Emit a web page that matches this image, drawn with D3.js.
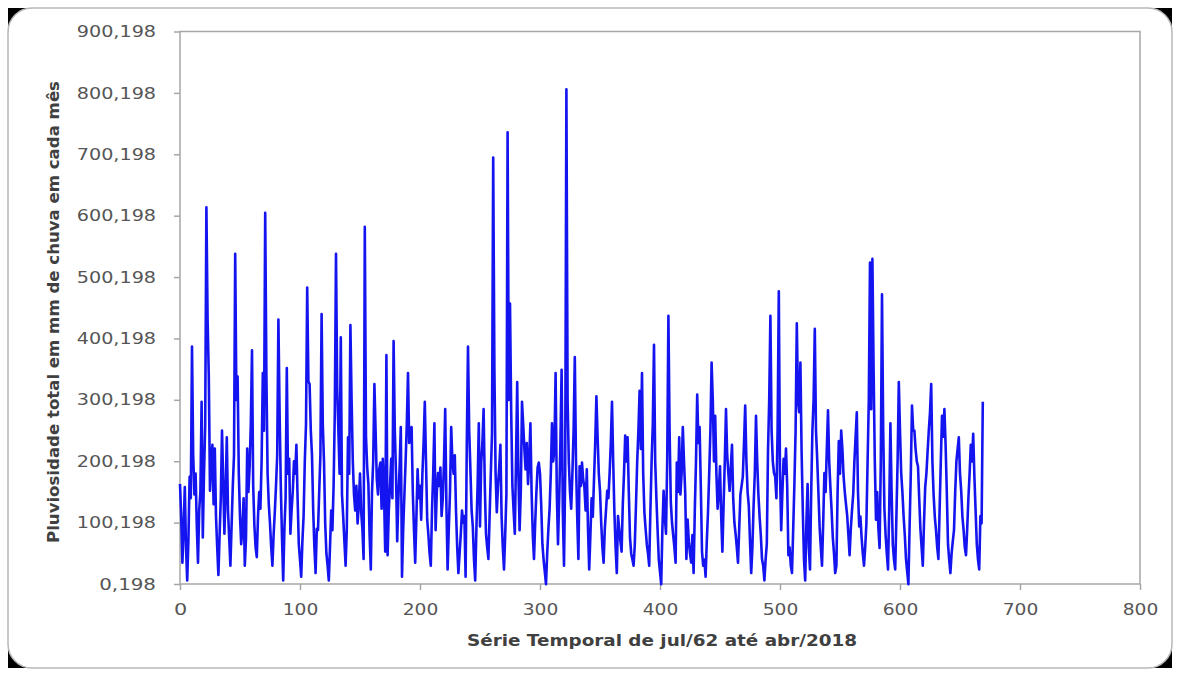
<!DOCTYPE html>
<html>
<head>
<meta charset="utf-8">
<script src="https://cdn.jsdelivr.net/npm/d3@7"></script>
<style>
  body { margin: 0; background: #fff; }
  svg { display: block; }
</style>
</head>
<body>
<svg id="chart"></svg>
<script>
// monthly rainfall, jul/1962 .. abr/2018 (670 months)
var rain = [
  163,110,35,90,158,60,6,70,175,140,387,210,
  146,180,95,35,120,150,297,76,180,260,614,430,
  338,152,200,227,130,221,110,60,15,80,140,250,
  170,82,150,239,120,75,30,95,160,210,538,300,
  338,180,110,65,90,140,30,75,221,150,190,260,
  381,160,95,60,44,110,150,123,200,344,250,605,
  340,180,130,99,60,30,80,117,160,210,431,280,
  160,76,6,90,140,352,180,204,82,120,152,200,
  180,227,140,65,40,12,70,111,200,260,483,330,
  326,250,210,120,60,18,90,88,150,210,440,260,
  200,99,50,30,6,60,120,88,160,280,538,320,
  250,180,402,146,110,70,30,90,239,180,422,300,
  200,146,120,160,99,130,180,117,90,41,582,240,
  190,163,80,24,150,200,326,250,170,146,187,198,
  123,204,150,53,373,47,120,160,204,140,396,250,
  180,70,140,190,256,12,90,146,200,260,344,230,
  240,256,150,88,35,110,187,140,160,105,180,230,
  297,200,105,80,50,30,120,180,262,88,150,181,
  160,190,111,140,200,285,130,24,90,150,256,200,
  180,210,120,60,18,50,82,120,100,111,12,230,
  387,250,187,120,94,40,6,90,160,262,94,198,
  230,285,160,82,60,41,110,180,245,695,350,180,
  117,160,190,227,110,60,24,80,146,736,300,457,
  280,160,120,82,200,329,180,88,150,297,260,220,
  187,230,163,200,262,150,80,41,100,150,190,198,
  180,130,65,40,20,0,50,90,123,180,262,200,
  220,344,150,65,140,230,349,120,30,180,806,300,
  200,150,123,180,250,370,200,110,41,192,160,198,
  170,158,120,187,90,24,80,140,110,170,230,306,
  240,180,152,100,60,35,90,120,152,140,180,230,
  297,200,117,60,18,111,90,70,53,130,180,242,
  200,239,150,76,50,40,30,65,130,200,250,315,
  220,344,180,117,90,65,50,30,120,200,260,390,
  200,140,88,40,20,0,90,152,110,82,200,437,
  250,134,100,80,60,35,198,150,239,146,180,256,
  200,150,41,105,70,50,35,80,18,120,200,309,
  230,256,160,53,30,40,12,70,117,180,250,361,
  300,200,274,180,123,150,192,110,53,130,200,285,
  210,180,152,190,227,140,100,82,60,35,90,146,
  160,175,230,291,200,150,128,70,18,60,128,180,
  274,200,146,110,80,41,30,6,40,65,216,300,
  437,250,200,181,175,140,250,477,180,88,150,204,
  180,221,160,47,60,30,18,90,163,250,425,300,
  280,361,216,120,40,6,100,163,60,24,150,250,
  300,416,250,204,150,94,60,30,100,181,150,220,
  283,200,158,120,76,50,18,30,150,233,180,250,
  220,175,150,130,111,80,47,90,120,146,200,240,
  280,150,94,110,76,50,30,60,99,200,300,524,
  285,530,350,200,105,150,90,59,200,472,250,123,
  80,50,24,120,262,150,65,40,24,110,200,329,
  250,181,150,111,80,41,20,0,94,180,291,250,
  250,220,200,192,140,90,60,30,100,158,180,216,
  250,280,326,200,146,110,88,60,41,120,200,274,
  240,285,227,150,65,40,18,50,70,88,150,200,
  220,239,180,152,110,88,60,47,90,140,180,227,
  200,245,175,120,65,40,24,111,99,297
];

var xTicks = [0, 100, 200, 300, 400, 500, 600, 700, 800];
var yTicks = [0.198, 100.198, 200.198, 300.198, 400.198, 500.198, 600.198, 700.198, 800.198, 900.198];
var yTickLabels = ["0,198", "100,198", "200,198", "300,198", "400,198", "500,198", "600,198", "700,198", "800,198", "900,198"];

var W = 1180, H = 676;
var plotLeft = 180, plotRight = 1140, plotTop = 31.5, plotBottom = 584;
var textColor = "#404040";

var svg = d3.select("#chart").attr("width", W).attr("height", H);

// outer frame with dark corners
svg.append("rect").attr("x", 8).attr("y", 8).attr("width", 1164).attr("height", 660).attr("fill", "#000");
svg.append("rect").attr("x", 8).attr("y", 8).attr("width", 1164).attr("height", 660)
    .attr("rx", 24).attr("ry", 24)
    .attr("fill", "#fff").attr("stroke", "#b8b8b8").attr("stroke-width", 1.5);

var x = d3.scaleLinear().domain([0, 800]).range([plotLeft, plotRight]);
var y = d3.scaleLinear().domain([0.198, 900.198]).range([plotBottom, plotTop]);

// plot area border
svg.append("rect")
    .attr("x", plotLeft).attr("y", plotTop)
    .attr("width", plotRight - plotLeft).attr("height", plotBottom - plotTop)
    .attr("fill", "none").attr("stroke", "#a6a6a6").attr("stroke-width", 1.5);

var yAxis = svg.append("g")
    .attr("transform", "translate(" + plotLeft + ",0)")
    .call(d3.axisLeft(y).tickValues(yTicks).tickSize(6).tickPadding(18)
        .tickFormat(function(d, i) { return yTickLabels[i]; }));

var xAxis = svg.append("g")
    .attr("transform", "translate(0," + plotBottom + ")")
    .call(d3.axisBottom(x).tickValues(xTicks).tickSize(6).tickPadding(14));

[yAxis, xAxis].forEach(function(g) {
    g.select(".domain").remove();
    g.selectAll(".tick line").attr("stroke", "#a6a6a6").attr("stroke-width", 1.5);
    g.selectAll(".tick text")
        .attr("fill", "#555")
        .style("font-family", "DejaVu Sans, sans-serif")
        .style("font-size", "16px")
        .attr("lengthAdjust", "spacingAndGlyphs")
        .attr("textLength", function() {
            var s = this.textContent;
            return s.length * 11.2 + (s.indexOf(",") >= 0 ? -11.2 + 12 : 2);
        });
});

var line = d3.line()
    .x(function(d, i) { return x(i); })
    .y(function(d) { return y(d); });

svg.append("path")
    .datum(rain)
    .attr("d", line)
    .attr("fill", "none")
    .attr("stroke", "#1414f0")
    .attr("stroke-width", 2.6)
    .attr("stroke-linejoin", "round");

// axis titles
svg.append("text")
    .attr("x", 662).attr("y", 646)
    .attr("text-anchor", "middle")
    .attr("fill", textColor)
    .style("font-family", "DejaVu Sans, sans-serif")
    .style("font-weight", "bold")
    .style("font-size", "16px")
    .attr("lengthAdjust", "spacingAndGlyphs")
    .attr("textLength", 390)
    .text("Série Temporal de jul/62 até abr/2018");

svg.append("text")
    .attr("transform", "translate(59,312) rotate(-90)")
    .attr("text-anchor", "middle")
    .attr("fill", textColor)
    .style("font-family", "DejaVu Sans, sans-serif")
    .style("font-weight", "bold")
    .style("font-size", "15.5px")
    .attr("lengthAdjust", "spacingAndGlyphs")
    .attr("textLength", 462)
    .text("Pluviosidade total em mm de chuva em cada mês");
</script>
</body>
</html>
